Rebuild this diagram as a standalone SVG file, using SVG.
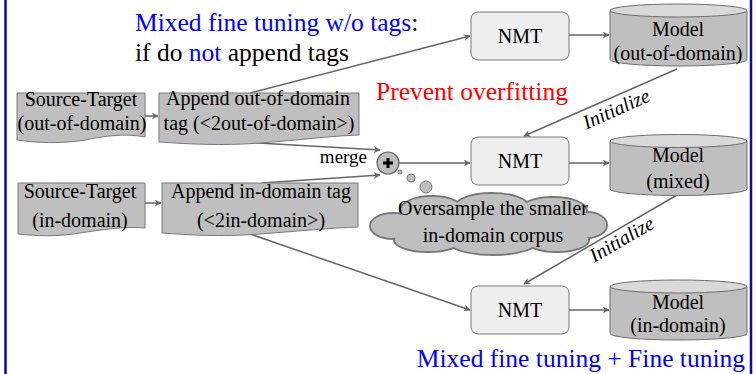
<svg xmlns="http://www.w3.org/2000/svg" width="756" height="374" viewBox="0 0 756 374" font-family="'Liberation Serif','Times New Roman',serif">
<style>
text{font-family:"Liberation Serif","Times New Roman",serif;fill:#000}
.t20{font-size:20px}
.big{font-size:25.5px}
.blue{fill:#0000ff}
.red{fill:#ff0000}
.c{text-anchor:middle}
.doc{fill:#bfbfbf;stroke:#7a7a7a;stroke-width:1}
.nmt{fill:#eeeeee;stroke:#7a7a7a;stroke-width:1}
.cyl{fill:#bfbfbf;stroke:#6e6e6e;stroke-width:1}
.cyltop{fill:#d9d9d9;stroke:#6e6e6e;stroke-width:1}
.ln{fill:none;stroke:#666;stroke-width:1.5}
.arr{marker-end:url(#ah)}
.it{font-size:20px;font-style:italic}
.frame{stroke:#0c0c9c;stroke-width:2.5}
</style>
<defs>
<marker id="ah" viewBox="0 0 10 10" refX="9" refY="5" markerWidth="7" markerHeight="7" markerUnits="userSpaceOnUse" orient="auto">
<path d="M0,0 L10,5 L0,10 L3,5 Z" fill="#666"/>
</marker>
</defs>
<rect width="756" height="374" fill="#fff"/>
<line class="frame" x1="5.5" y1="0" x2="5.5" y2="374"/>
<line class="frame" x1="751" y1="0" x2="751" y2="374"/>

<g id="title-top">
<text class="big" x="135" y="31"><tspan class="blue">Mixed fine tuning w/o tags</tspan>:</text>
<text class="big" x="135" y="61">if do <tspan class="blue">not</tspan> append tags</text>
</g>
<g id="prevent">
<text class="big red" x="376" y="100">Prevent overfitting</text>
</g>
<g id="title-bottom">
<text class="big blue" x="745" y="367" text-anchor="end">Mixed fine tuning + Fine tuning</text>
</g>

<g id="connectors">
<line class="ln arr" x1="250" y1="93" x2="470" y2="36"/>
<line class="ln arr" x1="569" y1="35" x2="609" y2="35"/>
<line class="ln arr" x1="145" y1="116" x2="158" y2="116"/>
<line class="ln arr" x1="145" y1="203" x2="161" y2="203"/>
<line class="ln arr" x1="240" y1="142" x2="380" y2="150"/>
<line class="ln arr" x1="262" y1="183" x2="380" y2="175"/>
<line class="ln arr" x1="399" y1="163" x2="470" y2="163"/>
<line class="ln arr" x1="569" y1="163" x2="609" y2="163"/>
<line class="ln arr" x1="677" y1="69" x2="524" y2="136"/>
<line class="ln arr" x1="677" y1="195" x2="524" y2="284"/>
<line class="ln arr" x1="250" y1="234" x2="470" y2="310"/>
<line class="ln arr" x1="569" y1="310" x2="609" y2="310"/>
<text class="it" transform="translate(619,115) rotate(-24)" text-anchor="middle">Initialize</text>
<text class="it" transform="translate(625,245) rotate(-30)" text-anchor="middle">Initialize</text>
<text style="font-size:19px" x="367" y="163" text-anchor="end">merge</text>
</g>

<g id="src-out">
<path class="doc" d="M17,93 H145 V137 C125,133 105,136 85,140 C60,144 38,143 17,140 Z"/>
<text class="t20 c" x="81" y="106">Source-Target</text>
<text class="t20 c" x="82" y="130">(out-of-domain)</text>
</g>
<g id="append-out">
<path class="doc" d="M159,93 H359 V135 C330,136 300,140 260,143 C220,146 190,144 159,142 Z"/>
<text class="t20 c" x="258" y="105">Append out-of-domain</text>
<text class="t20 c" x="259" y="130">tag (&lt;2out-of-domain&gt;)</text>
</g>
<g id="src-in">
<path class="doc" d="M18,183 H145 V228 C125,226 100,230 80,233 C55,237 38,236 18,234 Z"/>
<text class="t20 c" x="80" y="198">Source-Target</text>
<text class="t20 c" x="80" y="227">(in-domain)</text>
</g>
<g id="append-in">
<path class="doc" d="M162,183 H358 V227 C330,228 300,231 260,234 C220,237 190,235 162,233 Z"/>
<text class="t20 c" x="261" y="198">Append in-domain tag</text>
<text class="t20 c" x="261" y="227">(&lt;2in-domain&gt;)</text>
</g>

<g id="merge">
<circle cx="388" cy="163" r="11" fill="#bdbdbd" stroke="#666" stroke-width="1.2"/>
<path d="M388,158 V168 M383,163 H393" stroke="#000" stroke-width="3"/>
</g>

<g id="cloud">
<circle cx="400" cy="172" r="2" fill="#bfbfbf" stroke="#777"/>
<circle cx="411" cy="178" r="4" fill="#bfbfbf" stroke="#777"/>
<circle cx="426" cy="187" r="6" fill="#bfbfbf" stroke="#777"/>
<g stroke="#777" stroke-width="2" fill="#bfbfbf">
<ellipse cx="393" cy="226" rx="23" ry="13"/>
<ellipse cx="432" cy="211" rx="32" ry="15"/>
<ellipse cx="492" cy="208" rx="38" ry="15"/>
<ellipse cx="553" cy="211" rx="34" ry="14"/>
<ellipse cx="587" cy="225" rx="20" ry="13"/>
<ellipse cx="557" cy="240" rx="32" ry="12"/>
<ellipse cx="493" cy="241" rx="45" ry="14"/>
<ellipse cx="428" cy="240" rx="34" ry="12"/>
</g>
<g fill="#bfbfbf">
<ellipse cx="393" cy="226" rx="22" ry="12"/>
<ellipse cx="432" cy="211" rx="31" ry="14"/>
<ellipse cx="492" cy="208" rx="37" ry="14"/>
<ellipse cx="553" cy="211" rx="33" ry="13"/>
<ellipse cx="587" cy="225" rx="19" ry="12"/>
<ellipse cx="557" cy="240" rx="31" ry="11"/>
<ellipse cx="493" cy="241" rx="44" ry="13"/>
<ellipse cx="428" cy="240" rx="33" ry="11"/>
<ellipse cx="492" cy="226" rx="98" ry="20"/>
</g>
<text class="t20 c" x="493" y="215">Oversample the smaller</text>
<text class="t20 c" x="493" y="242">in-domain corpus</text>
</g>

<g id="nmt1">
<rect class="nmt" x="471" y="12" width="98" height="48" rx="7"/>
<text class="t20 c" x="520" y="43">NMT</text>
</g>
<g id="nmt2">
<rect class="nmt" x="471" y="137" width="98" height="48" rx="7"/>
<text class="t20 c" x="520" y="168">NMT</text>
</g>
<g id="nmt3">
<rect class="nmt" x="471" y="286" width="98" height="48" rx="7"/>
<text class="t20 c" x="520" y="317">NMT</text>
</g>

<g id="model-out">
<path class="cyl" d="M610,10.5 V59.5 A68.5,6.5 0 0 0 747,59.5 V10.5 Z"/>
<ellipse class="cyltop" cx="678.5" cy="10.5" rx="68.5" ry="6.5"/>
<text class="t20 c" x="678" y="36">Model</text>
<text class="t20 c" x="678" y="60">(out-of-domain)</text>
</g>
<g id="model-mixed">
<path class="cyl" d="M610,141 V189 A68.5,6.5 0 0 0 747,189 V141 Z"/>
<ellipse class="cyltop" cx="678.5" cy="141" rx="68.5" ry="6.5"/>
<text class="t20 c" x="678" y="162">Model</text>
<text class="t20 c" x="678" y="188">(mixed)</text>
</g>
<g id="model-in">
<path class="cyl" d="M610,286.5 V333.5 A68.5,6.5 0 0 0 747,333.5 V286.5 Z"/>
<ellipse class="cyltop" cx="678.5" cy="286.5" rx="68.5" ry="6.5"/>
<text class="t20 c" x="678" y="309">Model</text>
<text class="t20 c" x="678" y="332">(in-domain)</text>
</g>
</svg>
